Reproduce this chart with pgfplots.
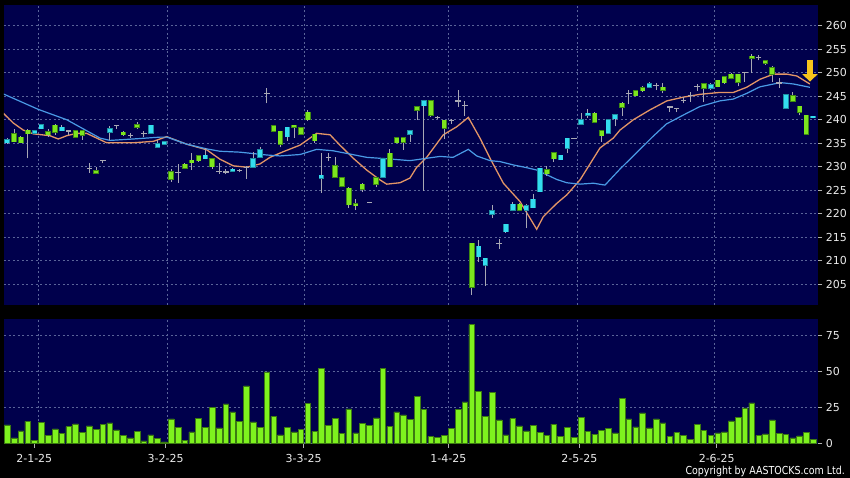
\documentclass[border=0pt]{standalone}
\usepackage{fontspec}
\setmainfont{DejaVu Sans}
\newfontfamily\cond[FakeStretch=0.86]{DejaVu Sans}
\usepackage{pgfplots}
\pgfplotsset{compat=1.18}
\usepackage{pgfplotstable}
\usetikzlibrary{arrows.meta}

\definecolor{bgnavy}{HTML}{00004C}
\definecolor{gridc}{HTML}{5A6499}
\definecolor{cgreen}{HTML}{7CE61E}
\definecolor{cgreend}{HTML}{3E8A12}
\definecolor{ccyan}{HTML}{33DDF0}
\definecolor{ccyand}{HTML}{1E8FA0}
\definecolor{wick}{HTML}{A8A8B4}
\definecolor{maor}{HTML}{E39566}
\definecolor{mabl}{HTML}{4A9BE6}
\definecolor{vgreen}{HTML}{7EF21E}
\definecolor{vdark}{HTML}{3C7A12}
\definecolor{arrowy}{HTML}{F8C41C}

% i O H L C
\pgfplotstableread{
i O H L C
2 237 238 235.2 235.3
3 236.3 236.5 235 235.1
4 237.8 238.1 231.8 237
7 237.4 238 236.4 236.8
8 238.8 239 236.8 237.3
11 237.6 237.7 236.2 236.3
12 237.6 237.9 235.7 236.7
14 229.1 230 228.5 228.6
18 237.3 237.5 236.6 236.8
20 238.9 239.5 238 238.4
25 228.9 229.5 226.8 227.3
27 230.5 230.7 229.5 229.7
28 231.4 233 229.3 230.9
29 232.3 232.5 231.1 231.3
31 231.7 231.9 229.6 230
40 238.7 238.9 237.3 237.5
41 237.5 237.6 234.1 234.8
43 238.8 238.9 236.1 238.4
44 238.3 238.5 236.7 236.9
45 241.6 242 239.7 240
46 236.9 237 235.1 235.5
49 230.2 232.1 227.7 227.8
50 227.6 227.8 225.6 225.8
51 225.4 225.6 221.3 221.9
52 222.1 223.2 220.9 221.7
53 226.3 226.5 224.6 225.2
55 227.6 227.7 225.6 226.3
57 232.9 233.8 229.9 230
58 236.2 236.4 235 235.1
59 236.2 236.3 233.6 235.2
61 242.7 242.9 240 242
63 244 244.1 240.5 240.9
65 239.9 240 235.9 238.2
69 213.7 213.8 202.7 204.4
76 222 222.2 220.5 220.7
80 229.3 230.2 228 228.5
81 233 233.1 231 231.7
87 241.4 241.6 239.3 239.5
88 237.6 237.8 235.3 236.6
91 243.5 243.7 240.8 242.7
93 246.1 246.2 245 245.1
94 246.8 247.1 246 246.2
97 246.9 247.9 245.6 246.3
103 247.6 247.8 243.7 246.7
105 248.4 248.5 246.9 247
106 249.1 249.3 247.7 247.9
107 249.7 249.9 248.6 248.8
108 249.7 249.8 247.1 248
110 253.5 253.9 249.9 253.1
112 252.5 252.8 251.7 252
113 251 251.5 248 249.7
116 245.1 245.8 243.8 243.9
117 242.9 243 240.9 241.6
118 240.9 241 236.8 236.9
}\greentab

\pgfplotstableread{
i O H L C
1 235.1 236.1 234.9 235.7
5 237.1 237.8 237 237.6
6 238.1 239.1 238 238.9
9 237.7 238.9 237.6 238.4
16 237.3 238.7 235.7 238.1
22 237.1 238.9 237 238.8
23 234.1 235.7 234 234.9
24 234.8 235.5 234.7 235.3
30 231.7 234 231.6 232.4
34 229 229.7 228.9 229.5
37 229.9 233.2 229.8 231.7
38 232 234.3 231.9 233.6
42 236.4 238.5 235.5 238.4
47 227.6 232.9 224.5 228.2
56 227.8 231.9 227.7 231.7
60 236.9 237.9 235.3 237.6
62 243 244.2 224.9 244
70 210.9 214.4 209.7 213.1
71 209.1 210.7 204.7 210.5
72 219.9 221.9 219 220.6
74 216.2 217.9 216 217.8
75 220.7 222.4 220.5 222
77 220.7 222 216.9 221.7
78 221.3 224.2 221.2 223.1
79 224.7 229.8 224.6 229.7
82 231.5 232.5 231.4 232.4
83 233.9 236.2 232.9 236.1
85 239 241.5 238.9 240
86 240.9 242.2 240.4 241.4
89 237.1 240.1 237 240
90 240.2 241.1 238.6 241
95 246.9 248 246.7 247.6
104 246.7 247.8 246.3 247.4
115 242.4 245.4 242.3 245.3
119 240.4 240.8 240.3 240.7
}\cyantab

\pgfplotstableread{
i O H L C
10 237.6 237.8 236.8 237.6
13 229.7 230.7 228.7 229.7
15 231.3 231.5 230.7 231.3
17 238.7 238.9 238 238.7
19 236.7 237.1 236.1 236.7
21 237 237.5 236.3 237
26 228.8 230.6 226.6 228.8
32 229 230.7 228.5 229
33 228.9 229.6 228.4 228.9
35 229.2 229.5 228.8 229.2
36 229.9 230.2 227.5 229.9
39 245.5 246.7 243.5 245.5
48 232 232.9 231.3 232
54 222.4 222.6 222.2 222.4
64 240.5 240.8 240.1 240.5
66 239.9 240.2 239.1 239.9
67 244 246.3 242.8 244
68 243 244 240.7 243
73 213.7 214.7 212.6 213.7
84 236 236.1 235.9 236
92 245.6 246.3 243.3 245.6
96 247.2 247.9 246.3 247.2
98 242.7 243 241.7 242.7
99 242.4 242.6 241.6 242.4
100 244.1 244.8 243.5 244.1
101 245.1 245.9 243.8 245.1
102 247 247.6 246.2 247
109 250.1 250.2 248 250.1
111 253.3 253.7 252.6 253.3
114 247.8 248.8 246.7 247.8
}\dojitab

\pgfplotstableread{
i v
1 12.8
2 3.7
3 8.6
4 15.3
5 2.1
6 14.4
7 5.6
8 10
9 6.7
10 11.6
11 13.5
12 7.4
13 12.1
14 9.8
15 13.3
16 14.2
17 9.3
18 5.3
19 3.7
20 8.4
21 1.6
22 5.8
23 3.5
24 0.9
25 17
26 11.2
27 1.9
28 7.9
29 17.2
30 10.9
31 25.1
32 10.7
33 27.4
34 21.9
35 15.3
36 40
37 14.9
38 11.2
39 49.8
40 18.8
41 5.8
42 10.9
43 7.9
44 9.5
45 27.7
46 8.1
47 52.3
48 12.3
49 17.2
50 6.7
51 24
52 7.2
53 14
54 12.3
55 17.7
56 52.3
57 11.6
58 21.9
59 19.8
60 16.5
61 32.8
62 23.5
63 4.7
64 4.2
65 5.3
66 10.2
67 23.5
68 28.8
69 82.6
70 36
71 18.8
72 35.3
73 16.3
74 5.8
75 17.2
76 12.1
77 8.6
78 12.6
79 7.7
80 5.3
81 13.3
82 4.7
83 11.2
84 4
85 18.1
86 8.4
87 6.3
88 8.8
89 10.5
90 7.2
91 31.4
92 17
93 11.4
94 21.2
95 10.7
96 17
97 14.2
98 4.9
99 7.4
100 5.6
101 2.8
102 13
103 9.1
104 5.3
105 7.2
106 7.9
107 15.6
108 17.9
109 24.7
110 28.1
111 5.3
112 6.5
113 16.3
114 7
115 6.3
116 3.7
117 5.1
118 7.7
119 2.8
}\voltab

\pgfplotsset{
  panel/.style={
    scale only axis, width=814.3pt,
    xmin=0.52, xmax=119.74,
    axis background/.style={fill=bgnavy},
    axis line style={draw=none},
    grid style={color=gridc, dash pattern=on 2pt off 2.5pt, line width=0.6pt},
    ymajorgrids,
    ytick pos=right, yticklabel pos=right,
    tick align=outside,
    tick style={color=white!70!black, line width=0.6pt},
    major tick length=4pt,
    ticklabel style={font=\fontsize{11}{12}\selectfont, color=white!92!black},
    /pgf/number format/assume math mode=true,
  },
}

\begin{document}
\begin{tikzpicture}[x=1pt,y=1pt]
\useasboundingbox[fill=black] (0,0) rectangle (850,478);

% ---------- price panel ----------
\begin{axis}[panel, at={(4pt,173pt)}, anchor=south west, height=300pt,
  ymin=200.6, ymax=264.4,
  ytick={205,210,...,260},
  xtick={5.54,24.43,44.48,65.57,84.46,104.51}, xticklabels={},
  xmajorgrids, xtick style={draw=none},
]
% moving averages
\addplot[maor, line width=1.3pt] coordinates {
(0.41,241.4) (1.88,239.3) (3.34,237.8) (4.81,237) (7.25,236.6) (8.47,235.9)
(9.7,236.6) (11.16,237.1) (12.63,237.1) (15.55,235.1) (19.45,235.1) (22.38,235.4)
(24.34,236.4) (27.27,234.8) (30.2,233.6) (32.14,231.6) (34.09,230.2) (36.05,229.9)
(38,230.6) (39.46,232) (41.41,233.2) (43.86,234.6) (46.3,237.1) (48.25,236.8)
(49.7,234.6) (51.66,231.8) (53.62,229.3) (55.57,227.2) (56.55,226.3) (58.5,226.6)
(59.96,227.6) (60.94,229.9) (62.4,232) (64.84,236.8) (66.8,238.5) (68.5,240.5)
(70.2,236.1) (71.68,231.8) (73.63,226.5) (76.07,222.6) (78.51,216.7) (79.48,219.4)
(81.44,222.2) (82.9,224) (84.85,227.2) (87.78,234) (89.73,236.1) (90.7,237.8)
(92.66,240) (95.1,242.1) (97.55,244) (99.98,244.8) (102.4,245.4) (105.3,245.8)
(107.3,245.8) (109.25,246.9) (111.2,248.6) (113.2,249.7) (115.12,249.7) (116.6,249.3)
(118.5,247.6)};
\addplot[mabl, line width=1.2pt] coordinates {
(0.41,245.5) (5.54,242.2) (9.7,240) (14.57,236.1) (16.04,235.6) (19.4,235.9)
(23.36,236.3) (24.38,236.3) (27.27,234.8) (30.2,233.8) (32.1,233.3) (35.07,233.1)
(38.98,232.5) (40.93,232.3) (43.86,232.6) (46.3,233.7) (48.69,233.4) (51.18,232.7)
(53.62,232) (56.55,231.7) (59.96,231.3) (62.4,231.8) (64.35,232.2) (66.26,232)
(68.5,233.7) (69.73,232.3) (71.68,231.3) (73.14,231.1) (75.05,230.4) (77.05,229.8)
(78.51,229.3) (79.98,228.3) (81.44,227.3) (82.9,226.6) (84.85,226.3) (86.8,226.5)
(88.51,226.1) (90.7,229.5) (93.63,233.7) (95.5,236.4) (97.5,239.1) (99.98,241)
(102.4,242.8) (105.3,244) (107.3,244.4) (109.25,245.6) (111.2,247) (113.2,247.6)
(114.2,247.9) (116.1,247.6) (118.5,246.9)};

% wicks
\addplot[wick, line width=1pt, quiver={u=0, v={\thisrow{H}-\thisrow{L}}}] table[x=i, y=L] {\greentab};
\addplot[wick, line width=1pt, quiver={u=0, v={\thisrow{H}-\thisrow{L}}}] table[x=i, y=L] {\cyantab};
\addplot[wick, line width=1pt, quiver={u=0, v={\thisrow{H}-\thisrow{L}}}] table[x=i, y=L] {\dojitab};
% bodies
\addplot[cgreend, line width=5.6pt, quiver={u=0, v={abs(\thisrow{O}-\thisrow{C})+0.24}}] table[x=i, y expr={min(\thisrow{O},\thisrow{C})-0.12}] {\greentab};
\addplot[cgreen, line width=4pt, quiver={u=0, v={abs(\thisrow{O}-\thisrow{C})}}] table[x=i, y expr={min(\thisrow{O},\thisrow{C})}] {\greentab};
\addplot[ccyand, line width=5.6pt, quiver={u=0, v={abs(\thisrow{O}-\thisrow{C})+0.24}}] table[x=i, y expr={min(\thisrow{O},\thisrow{C})-0.12}] {\cyantab};
\addplot[ccyan, line width=4pt, quiver={u=0, v={abs(\thisrow{O}-\thisrow{C})}}] table[x=i, y expr={min(\thisrow{O},\thisrow{C})}] {\cyantab};
% doji crosses
\addplot[only marks, mark=-, mark size=2.7pt, mark options={wick, line width=1.2pt}] table[x=i, y=O] {\dojitab};
% arrow
\addplot[arrowy, line width=6.5pt, -{Triangle[width=15pt,length=7.5pt]}] coordinates {(118.52,252.7) (118.52,248.1)};
\end{axis}

% ---------- volume panel ----------
\begin{axis}[panel, at={(4pt,34pt)}, anchor=south west, height=125pt,
  ymin=-0.5, ymax=86.6,
  ytick={0,25,50,75},
  xtick={4.95,24.19,44.4,65.57,84.75,104.87},
  xticklabels={2-1-25,3-2-25,3-3-25,1-4-25,2-5-25,2-6-25},
  xticklabel style={yshift=-3pt},
  xtick pos=bottom,
  extra x ticks={5.54,24.43,44.48,65.57,84.46,104.51},
  extra x tick labels={},
  extra x tick style={grid=major, major tick length=0pt},
]
\addplot[ybar, bar width=5.6pt, bar shift=0pt, fill=vgreen, draw=vdark, line width=0.6pt] table[x=i, y=v] {\voltab};
\end{axis}

\node[anchor=east, font=\cond\fontsize{11}{12}\selectfont, color=white, inner sep=0pt] at (845,7) {Copyright by AASTOCKS.com Ltd.};
\end{tikzpicture}
\end{document}
